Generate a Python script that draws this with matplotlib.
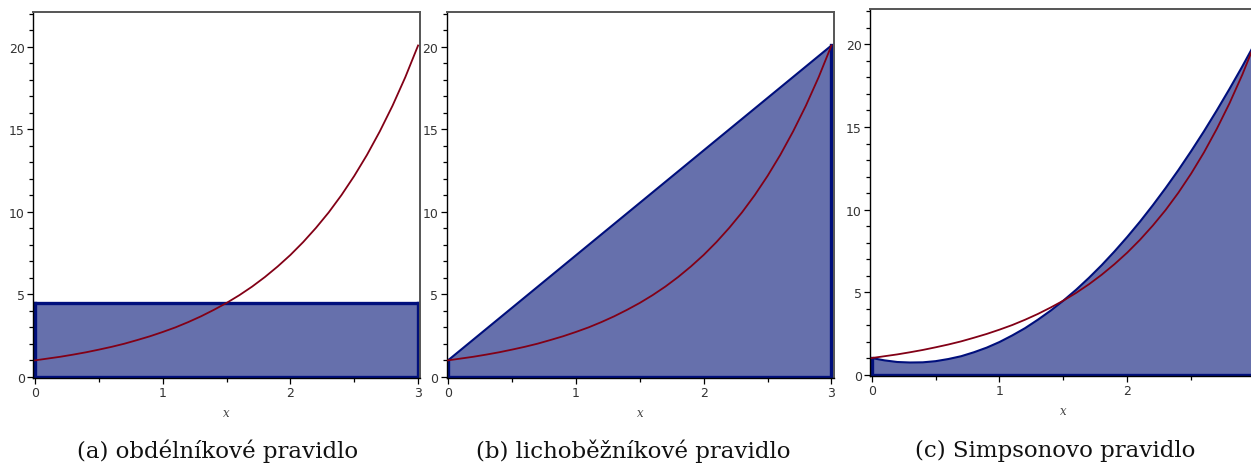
import matplotlib
matplotlib.use("Agg")
import matplotlib.pyplot as plt
from matplotlib.ticker import MultipleLocator

x_vals = [0.0, 0.1, 0.2, 0.3, 0.4, 0.5, 0.6, 0.7, 0.8, 0.9, 1.0,
          1.1, 1.2, 1.3, 1.4, 1.5, 1.6, 1.7, 1.8, 1.9, 2.0,
          2.1, 2.2, 2.3, 2.4, 2.5, 2.6, 2.7, 2.8, 2.9, 3.0]
f_vals = [1.00, 1.11, 1.22, 1.35, 1.49, 1.65, 1.82, 2.01, 2.23, 2.46, 2.72,
          3.00, 3.32, 3.67, 4.06, 4.48, 4.95, 5.47, 6.05, 6.69, 7.39,
          8.17, 9.03, 9.97, 11.02, 12.18, 13.46, 14.88, 16.44, 18.17, 20.09]
simpson_vals = [1.00, 0.86, 0.76, 0.73, 0.74, 0.81, 0.94, 1.11, 1.35, 1.63, 1.97,
                2.37, 2.81, 3.32, 3.87, 4.48, 5.14, 5.86, 6.63, 7.46, 8.34,
                9.27, 10.26, 11.30, 12.39, 13.54, 14.74, 16.00, 17.31, 18.67, 20.09]
rect_height = 4.48
captions = ["(a) obdélníkové pravidlo", "(b) lichoběžníkové pravidlo",
            "(c) Simpsonovo pravidlo"]

W, H = 1251, 464
fill_c = "#6670ac"
edge_c = "#000f7c"
curve_c = "#820016"
tick_c = "#333333"

fig = plt.figure(figsize=(W / 100, H / 100), dpi=100)

# axes boxes in pixels: left, top, right, bottom
boxes = [(33, 13, 420, 379), (446.5, 13, 834, 379), (870, 10, 1257, 376.7)]
xlims = [(-0.016, 3.015), (-0.012, 3.02), (-0.013, 3.015)]
ylims = [(-0.07, 22.12), (-0.07, 22.12), (-0.07, 22.15)]
caption_x = [218, 633, 1055]

a, b = x_vals[0], x_vals[-1]
tops = [
    ([a, b], [rect_height, rect_height]),
    ([a, b], [f_vals[0], f_vals[-1]]),
    (x_vals, simpson_vals),
]

for i, (box, top) in enumerate(zip(boxes, tops)):
    l, t, r, bt = box
    ax = fig.add_axes([l / W, 1 - bt / H, (r - l) / W, (bt - t) / H])
    tx, ty = top
    ax.fill([a] + list(tx) + [b], [0] + list(ty) + [0],
            facecolor=fill_c, edgecolor="none", zorder=2)
    top_lw = 2.4 if i == 0 else 1.5
    ax.plot(tx, ty, color=edge_c, lw=top_lw, zorder=2.5)
    # left, bottom and right edges
    ax.plot([a, a, b, b], [ty[0], 0, 0, ty[-1]], color=edge_c, lw=2.4,
            solid_joinstyle="miter", zorder=2.5)
    ax.plot(x_vals, f_vals, color=curve_c, lw=1.3, zorder=3)
    ax.set_xlim(*xlims[i])
    ax.set_ylim(*ylims[i])

    ax.xaxis.set_major_locator(MultipleLocator(1))
    ax.xaxis.set_minor_locator(MultipleLocator(0.5))
    ax.yaxis.set_major_locator(MultipleLocator(5))
    ax.yaxis.set_minor_locator(MultipleLocator(1))
    ax.tick_params(which="major", length=4, width=0.9, color="black",
                   labelsize=9, labelcolor=tick_c, pad=2)
    ax.tick_params(which="minor", length=3, width=0.9, color="black")
    for side in ["left", "bottom"]:
        ax.spines[side].set_color("black")
        ax.spines[side].set_linewidth(1.0)
    for side in ["top", "right"]:
        ax.spines[side].set_color("#555555")
        ax.spines[side].set_linewidth(1.4)

    ax.set_xlabel("x", family="DejaVu Serif", style="italic", fontsize=8.5,
                  color="#444444", labelpad=5)

    fig.text(caption_x[i] / W, 1 - 451 / H, captions[i], ha="center",
             va="center", family="DejaVu Serif", fontsize=16.5,
             color="#111111")

fig.savefig("out.png", dpi=100)
